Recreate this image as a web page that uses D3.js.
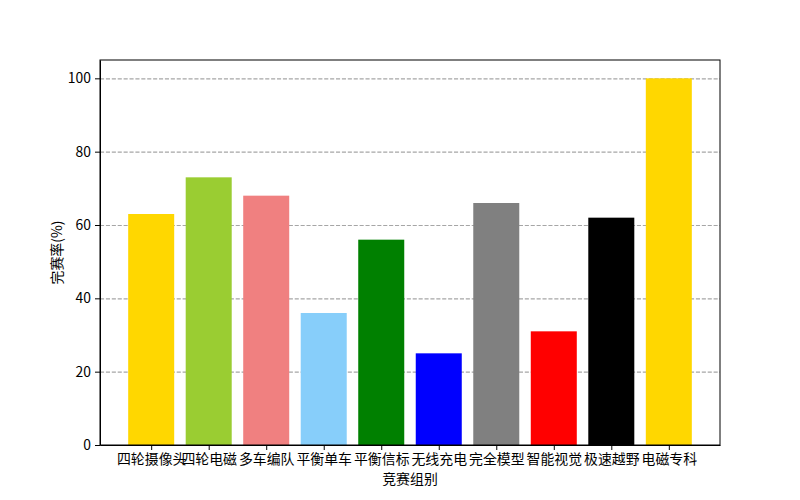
<!DOCTYPE html>
<html lang="zh">
<head>
<meta charset="UTF-8">
<title>完赛率</title>
<script src="https://cdn.jsdelivr.net/npm/d3@7"></script>
<style>
body { margin: 0; background: #fff; }
text { font-family: "Noto Sans CJK SC", sans-serif; }
.axis text { font-size: 13.9px; fill: #000; }
.axis path, .axis line { stroke: #000; stroke-width: 1px; }
.grid line { stroke: #a6a6a6; stroke-dasharray: 4.1 1.8; stroke-width: 1.1px; }
.grid path { stroke-width: 0; }
</style>
</head>
<body>
<div id="chart"></div>
<script>
// 数据
var categories = ["四轮摄像头", "四轮电磁", "多车编队", "平衡单车", "平衡信标", "无线充电", "完全模型", "智能视觉", "极速越野", "电磁专科"];
var values = [63, 73, 68, 36, 56, 25, 66, 31, 62, 100];
var colors = ["gold", "yellowgreen", "lightcoral", "lightskyblue", "green", "blue", "gray", "red", "black", "gold"];
var yTicks = [0, 20, 40, 60, 80, 100];

var width = 800, height = 500;
var padL = 100, padR = 720, padT = 60, padB = 445;

var svg = d3.select("#chart").append("svg")
  .attr("width", width).attr("height", height);

// x: 类别索引, 柱宽0.8, matplotlib 式边距
var xScale = d3.scaleLinear()
  .domain([-0.4 - 0.49, categories.length - 1 + 0.4 + 0.49])
  .range([padL, padR]);
var yScale = d3.scaleLinear().domain([0, 105]).range([padB, padT]);

// 网格
svg.append("g").attr("class", "grid")
  .attr("transform", "translate(" + padL + ",0)")
  .call(d3.axisLeft(yScale).tickValues(yTicks.slice(1)).tickSize(-(padR - padL)).tickFormat(""));

// 柱
svg.selectAll("rect.bar").data(values).enter().append("rect")
  .attr("class", "bar")
  .attr("x", function(d, i) { return xScale(i - 0.4); })
  .attr("width", function() { return xScale(0.4) - xScale(-0.4); })
  .attr("y", function(d) { return yScale(d); })
  .attr("height", function(d) { return yScale(0) - yScale(d); })
  .attr("fill", function(d, i) { return colors[i]; });

// 轴
svg.append("g").attr("class", "axis")
  .attr("transform", "translate(0," + padB + ")")
  .call(d3.axisBottom(xScale).tickValues(d3.range(categories.length))
    .tickFormat(function(i) { return categories[i]; }).tickSize(5).tickSizeOuter(0).tickPadding(4));

svg.append("g").attr("class", "axis")
  .attr("transform", "translate(" + padL + ",0)")
  .call(d3.axisLeft(yScale).tickValues(yTicks).tickSize(5).tickSizeOuter(0).tickPadding(4));

// 边框
svg.append("rect")
  .attr("x", padL).attr("y", padT)
  .attr("width", padR - padL).attr("height", padB - padT)
  .attr("fill", "none").attr("stroke", "#000").attr("stroke-width", 1);

// 轴标题
svg.append("text")
  .attr("x", (padL + padR) / 2).attr("y", 484)
  .attr("text-anchor", "middle").style("font-size", "13.9px")
  .text("竞赛组别");

svg.append("text")
  .attr("transform", "translate(62," + ((padT + padB) / 2) + ") rotate(-90)")
  .attr("text-anchor", "middle").style("font-size", "13.9px")
  .text("完赛率(%)");
</script>
</body>
</html>
